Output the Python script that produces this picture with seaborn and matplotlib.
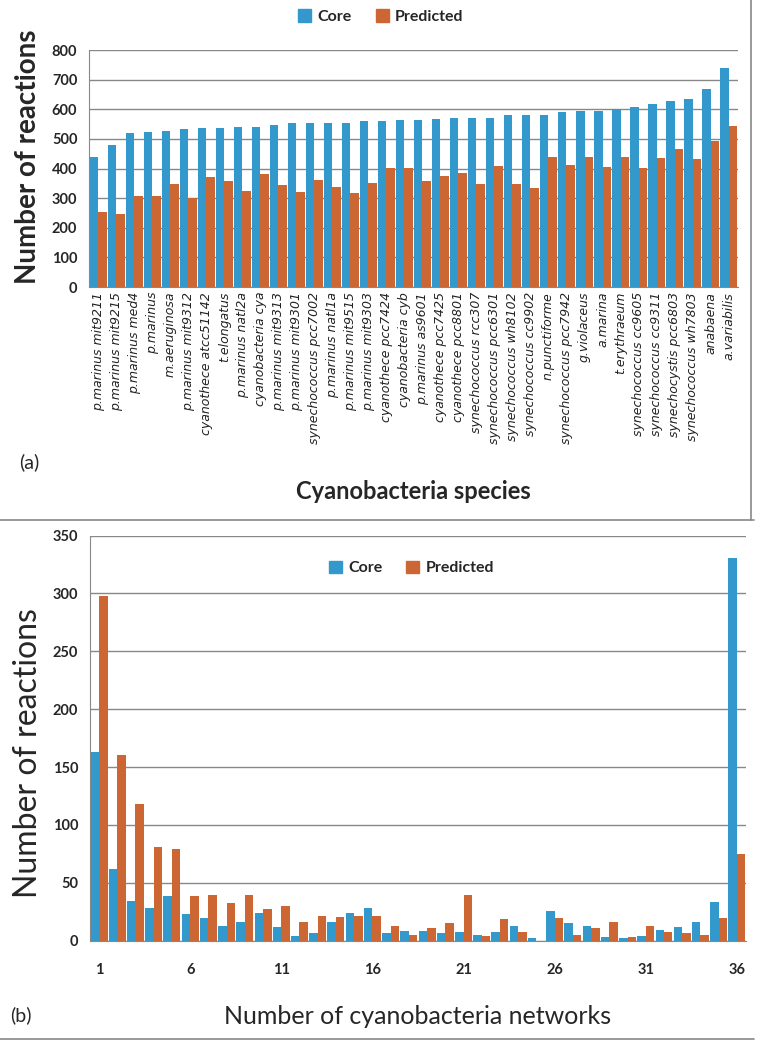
import numpy as np
import pandas as pd
import matplotlib.pyplot as plt
import seaborn as sns
from matplotlib.lines import Line2D
from matplotlib.patches import Patch

species = ["p.marinus mit9211", "p.marinus mit9215", "p.marinus med4", "p.marinus",
           "m.aeruginosa", "p.marinus mit9312", "cyanothece atcc51142", "t.elongatus",
           "p.marinus natl2a", "cyanobacteria cya", "p.marinus mit9313", "p.marinus mit9301",
           "synechococcus pcc7002", "p.marinus natl1a", "p.marinus mit9515", "p.marinus mit9303",
           "cyanothece pcc7424", "cyanobacteria cyb", "p.marinus as9601", "cyanothece pcc7425",
           "cyanothece pcc8801", "synechococcus rcc307", "synechococcus pcc6301",
           "synechococcus wh8102", "synechococcus cc9902", "n.punctiforme",
           "synechococcus pcc7942", "g.violaceus", "a.marina", "t.erythraeum",
           "synechococcus cc9605", "synechococcus cc9311", "synechocystis pcc6803",
           "synechococcus wh7803", "anabaena", "a.variabilis"]
core_a = [440, 480, 520, 524, 527, 534, 537, 537, 540, 540, 547, 554, 554, 554, 554, 561,
          561, 564, 564, 567, 571, 571, 571, 581, 581, 581, 591, 594, 594, 601, 608, 618,
          628, 635, 669, 739]
pred_a = [255, 247, 308, 308, 348, 301, 372, 358, 325, 382, 345, 321, 362, 338, 318, 352,
          402, 401, 358, 375, 385, 348, 409, 348, 335, 439, 412, 439, 406, 439, 402, 436,
          466, 433, 493, 544]

networks = list(range(1, 37))
core_b = [163, 62, 34, 28, 39, 23, 19.5, 12.5, 16, 24, 11.6, 3.8, 6.4, 16, 24, 28, 6.4,
          8, 8, 6.4, 7.3, 4.7, 7.3, 12.5, 2, 25.6, 15, 12.5, 2.9, 2, 3.8, 9, 11.6, 16,
          33.4, 331]
pred_b = [298, 160, 118, 80.5, 79.6, 39, 39.5, 32.5, 39.5, 27, 30, 16, 21, 20, 21, 21,
          12.5, 4.7, 10.8, 15, 39.5, 3.8, 18.6, 7.3, 0, 19.5, 4.7, 10.8, 16, 2.9, 12.5,
          7.3, 6.4, 4.7, 19.5, 75]

BLUE = "#3399cc"
ORANGE = "#cc6633"
GRAY = "#888888"

sns.set_style("white")
plt.rcParams['font.family'] = ['Lato', 'DejaVu Sans']

fig = plt.figure(figsize=(7.62, 10.44), dpi=100)
ax1 = fig.add_axes([0.117, 0.725, 0.851, 0.227])
ax2 = fig.add_axes([0.118, 0.099, 0.861, 0.388])

df_a = pd.DataFrame({"species": species * 2,
                     "value": core_a + pred_a,
                     "type": ["Core"] * 36 + ["Predicted"] * 36})
df_b = pd.DataFrame({"n": [str(n) for n in networks] * 2,
                     "value": core_b + pred_b,
                     "type": ["Core"] * 36 + ["Predicted"] * 36})

pal = {"Core": BLUE, "Predicted": ORANGE}
sns.barplot(data=df_a, x="species", y="value", hue="type", palette=pal, width=0.93,
            saturation=1, linewidth=0, legend=False, ax=ax1)
sns.barplot(data=df_b, x="n", y="value", hue="type", palette=pal, width=0.93,
            saturation=1, linewidth=0, legend=False, ax=ax2)


def style(ax, ymax, step):
    ax.set_xlim(-0.5, 35.5)
    ax.set_ylim(0, ymax)
    ax.set_yticks(np.arange(0, ymax + 1, step))
    ax.yaxis.grid(True, color=GRAY, linewidth=1)
    ax.set_axisbelow(True)
    for s in ["top", "right"]:
        ax.spines[s].set_visible(False)
    ax.spines["left"].set_color(GRAY)
    ax.spines["bottom"].set_color(GRAY)
    ax.set_xticks(np.arange(-0.5, 36, 1), minor=True)
    ax.tick_params(axis="x", which="minor", length=5, color=GRAY, width=1)
    ax.tick_params(axis="x", which="major", length=0)
    ax.tick_params(axis="y", length=5, color=GRAY, width=1, direction="out")
    for t in ax.get_yticklabels():
        t.set_fontweight("bold")
        t.set_fontsize(10.5)


style(ax1, 800, 100)
ax1.set_xticks(range(36))
ax1.set_xticklabels(species, rotation=90, fontstyle="italic", fontsize=9,
                    family="DejaVu Sans", color="#222222")
ax1.set_xlabel("Cyanobacteria species", fontsize=17, fontweight="bold", labelpad=26)
ax1.set_ylabel("Number of reactions", fontsize=20, fontweight="bold")
ax1.yaxis.set_label_coords(-0.074, 0.55)

style(ax2, 350, 50)
ax2.set_xticks(range(0, 36, 5))
ax2.set_xticklabels([str(n) for n in networks[::5]], fontweight="bold", fontsize=10.5)
ax2.tick_params(axis="x", which="major", pad=16)
ax2.set_xlabel("Number of cyanobacteria networks", fontsize=18, labelpad=20)
ax2.set_ylabel("Number of reactions", fontsize=23)
ax2.yaxis.set_label_coords(-0.072, 0.463)

handles = [Patch(color=BLUE, label="Core"), Patch(color=ORANGE, label="Predicted")]
fig.legend(handles=handles, loc="center", bbox_to_anchor=(0.5, 0.984), ncol=2, frameon=False,
           prop={"weight": "bold", "size": 11.5}, handlelength=0.8, handleheight=0.8,
           handletextpad=0.4, columnspacing=1.5)
fig.legend(handles=handles, loc="center", bbox_to_anchor=(0.54, 0.456), ncol=2, frameon=False,
           prop={"weight": "bold", "size": 11.5}, handlelength=0.8, handleheight=0.8,
           handletextpad=0.4, columnspacing=1.5)

fig.text(0.025, 0.552, "(a)", fontsize=14)
fig.text(0.013, 0.022, "(b)", fontsize=14)

# panel frame lines
fig.add_artist(Line2D([0.985, 0.985], [1.0, 0.502], color=GRAY, linewidth=1.2))
fig.add_artist(Line2D([0.0, 0.99], [0.502, 0.502], color=GRAY, linewidth=1.2))
fig.add_artist(Line2D([0.0, 0.99], [0.005, 0.005], color=GRAY, linewidth=1.2))

fig.savefig("out.png", dpi=100)
